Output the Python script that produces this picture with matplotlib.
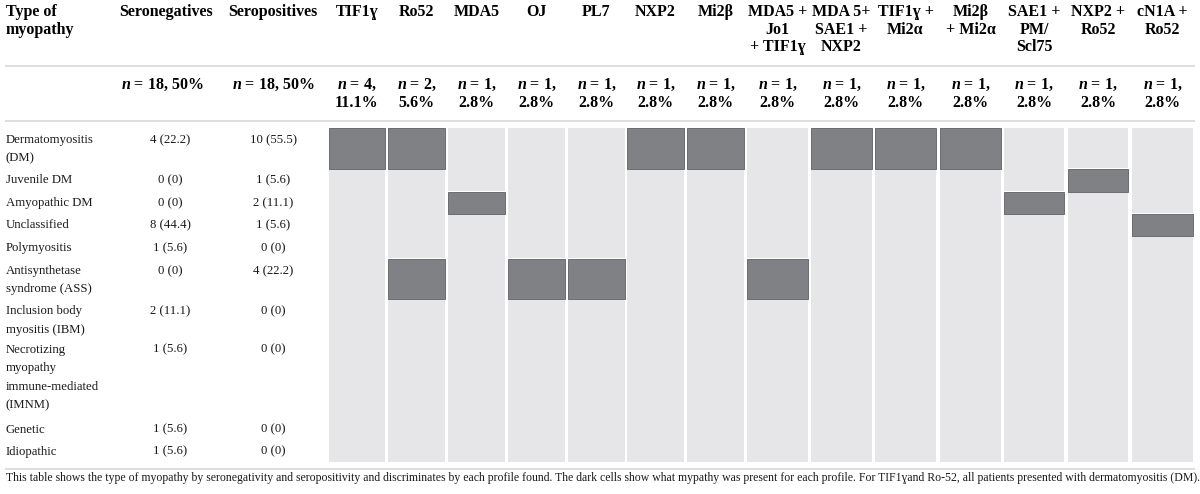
import matplotlib
matplotlib.use("Agg")
import matplotlib.pyplot as plt
from matplotlib.patches import Rectangle

plt.rcParams['font.family'] = ['Liberation Serif', 'DejaVu Serif']
plt.rcParams['mathtext.fontset'] = 'custom'
plt.rcParams['mathtext.it'] = 'Liberation Serif:italic:bold'
plt.rcParams['mathtext.rm'] = 'Liberation Serif:bold'

# table data
myopathy_types = [
    ["Dermatomyositis", "(DM)"],
    ["Juvenile DM"],
    ["Amyopathic DM"],
    ["Unclassified"],
    ["Polymyositis"],
    ["Antisynthetase", "syndrome (ASS)"],
    ["Inclusion body", "myositis (IBM)"],
    ["Necrotizing", "myopathy", "immune-mediated", "(IMNM)"],
    ["Genetic"],
    ["Idiopathic"],
]
seronegatives = ["4 (22.2)", "0 (0)", "0 (0)", "8 (44.4)", "1 (5.6)",
                 "0 (0)", "2 (11.1)", "1 (5.6)", "1 (5.6)", "1 (5.6)"]
seropositives = ["10 (55.5)", "1 (5.6)", "2 (11.1)", "1 (5.6)", "0 (0)",
                 "4 (22.2)", "0 (0)", "0 (0)", "0 (0)", "0 (0)"]
seroneg_total = "18, 50%"
seropos_total = "18, 50%"

profiles = [
    ["TIF1ɣ"], ["Ro52"], ["MDA5"], ["OJ"], ["PL7"], ["NXP2"], ["Mi2β"],
    ["MDA5 +", "Jo1", "+ TIF1ɣ"], ["MDA 5+", "SAE1 +", "NXP2"],
    ["TIF1ɣ +", "Mi2α"], ["Mi2β", "+ Mi2α"], ["SAE1 +", "PM/", "Scl75"],
    ["NXP2 +", "Ro52"], ["cN1A +", "Ro52"],
]
profile_n = [4, 2, 1, 1, 1, 1, 1, 1, 1, 1, 1, 1, 1, 1]
profile_pct = ["11.1%", "5.6%", "2.8%", "2.8%", "2.8%", "2.8%", "2.8%",
               "2.8%", "2.8%", "2.8%", "2.8%", "2.8%", "2.8%", "2.8%"]
# row index (in myopathy_types) of the dark cells for each profile
profile_present = [[0], [0, 5], [2], [5], [5], [0], [0], [5], [0], [0], [0],
                   [2], [1], [3]]

caption = ("This table shows the type of myopathy by seronegativity and seropositivity "
           "and discriminates by each profile found. The dark cells show what mypathy "
           "was present for each profile. For TIF1ɣand Ro-52, all patients presented "
           "with dermatomyositis (DM).")

# layout (pixels)
col_left = [329, 388, 448, 508, 568, 627, 687, 747, 811, 875, 940, 1004, 1068, 1132]
col_width = [56, 57, 57, 57, 57, 57, 57, 61, 61, 61, 61, 60, 60, 61]
row_height = [40.3, 23, 22, 22.5, 23, 40.3, 38.5, 80, 22, 21.8]
grid_top = 128.3
x_type, x_neg, x_pos = 6, 166, 273
light, dark, dark_edge, rule = '#e6e6e8', '#808184', '#6c6d70', '#dedede'

fig = plt.figure(figsize=(12, 4.94), dpi=100)
ax = fig.add_axes([0, 0, 1, 1])
ax.set_xlim(0, 1200)
ax.set_ylim(494, 0)
ax.axis('off')

hdr = dict(fontsize=11.5, fontweight='bold', color='black', va='baseline')
body = dict(fontsize=9.2, color='#1a1a1a', va='baseline')

# header row
for i, t in enumerate(["Type of", "myopathy"]):
    ax.text(x_type, 16 + i * 17.5, t, ha='left', **hdr)
ax.text(x_neg, 16, "Seronegatives", ha='center', **hdr)
ax.text(x_pos, 16, "Seropositives", ha='center', **hdr)
for c, lines in enumerate(profiles):
    xc = col_left[c] + col_width[c] / 2
    for i, t in enumerate(lines):
        ax.text(xc, 16 + i * 17.5, t, ha='center', **hdr)

# n row
ax.text(x_neg - 4, 89, r"$n$ = " + seroneg_total, ha='center', **hdr)
ax.text(x_pos, 89, r"$n$ = " + seropos_total, ha='center', **hdr)
for c in range(len(profiles)):
    xc = col_left[c] + col_width[c] / 2
    ax.text(xc, 89, r"$n$ = %d," % profile_n[c], ha='center', **hdr)
    ax.text(xc, 107, profile_pct[c], ha='center', **hdr)

# rules
for y in [66, 121, 469]:
    ax.plot([5, 1195], [y, y], color=rule, lw=1.4, solid_capstyle='butt')

# body text
row_top = [grid_top]
for h in row_height:
    row_top.append(row_top[-1] + h)
for r, lines in enumerate(myopathy_types):
    y0 = row_top[r] + 14.7
    for i, t in enumerate(lines):
        ax.text(x_type, y0 + i * 18.5, t, ha='left', **body)
    ax.text(x_neg + 4, y0, seronegatives[r], ha='center', **body)
    ax.text(x_pos, y0, seropositives[r], ha='center', **body)

# grid of profiles
grid_bottom = row_top[-1]
for c in range(len(profiles)):
    ax.add_patch(Rectangle((col_left[c], grid_top), col_width[c], grid_bottom - grid_top,
                           facecolor=light, edgecolor='none'))
    for r in profile_present[c]:
        y, h = row_top[r], row_height[r]
        ax.add_patch(Rectangle((col_left[c], y - 1), col_width[c], h + 2,
                               facecolor='white', edgecolor='none'))
        ax.add_patch(Rectangle((col_left[c], y), col_width[c], h,
                               facecolor=dark, edgecolor=dark_edge, lw=0.7))

ax.text(6, 481, caption, ha='left', fontsize=8.45, color='#1a1a1a', va='baseline')

fig.savefig("out.png", dpi=100)
